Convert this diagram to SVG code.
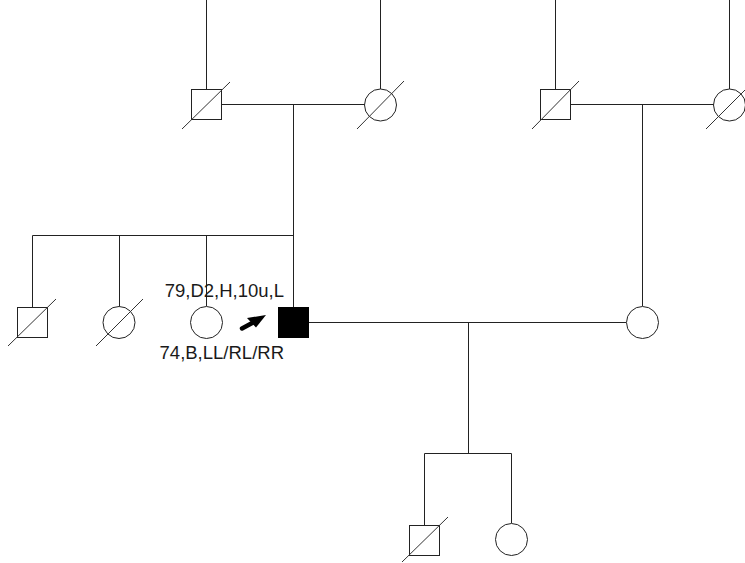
<svg xmlns="http://www.w3.org/2000/svg" width="745" height="563" viewBox="0 0 745 563">
<style>
.ln{stroke:#222;stroke-width:1;fill:none}
.sym{stroke:#222;stroke-width:1;fill:#fff}
.dec{stroke:#333;stroke-width:1}
.lbl{font-family:"Liberation Sans",Arial,sans-serif;font-size:18.5px;fill:#1a1a1a}
</style>
<rect width="745" height="563" fill="#fff"/>
<g id="connectors">
<path class="ln" d="M206.5,0V90 M380.5,0V89 M555.5,0V90 M729.5,0V89"/>
<path class="ln" d="M221,104.5H365 M571,104.5H714"/>
<path class="ln" d="M293.5,104.5V236 M642.5,104.5V306"/>
<path class="ln" d="M32.5,235.5H293.5 M32.5,235.5V307 M119.5,235.5V306 M206.5,235.5V306 M293.5,235.5V307"/>
<path class="ln" d="M309,322.5H626 M468.5,322.5V453.5 M424.5,453.5H511.5 M424.5,453.5V525 M511.5,453.5V523"/>
</g>
<g id="gf1"><rect class="sym" x="191.5" y="89.5" width="30" height="30"/><line class="dec" x1="182" y1="129" x2="230" y2="82"/></g>
<g id="gm1"><circle class="sym" cx="380.5" cy="105" r="16"/><line class="dec" x1="357" y1="129" x2="404" y2="81"/></g>
<g id="gf2"><rect class="sym" x="540.5" y="89.5" width="30" height="30"/><line class="dec" x1="532" y1="129" x2="579" y2="81"/></g>
<g id="gm2"><circle class="sym" cx="729.5" cy="105" r="16"/><line class="dec" x1="706" y1="129" x2="754" y2="81"/></g>
<g id="sib1"><rect class="sym" x="17.5" y="307.5" width="30" height="30"/><line class="dec" x1="8" y1="346" x2="56" y2="299"/></g>
<g id="sib2"><circle class="sym" cx="119" cy="322.5" r="16"/><line class="dec" x1="96" y1="346" x2="143" y2="299"/></g>
<g id="sib3"><circle class="sym" cx="206.5" cy="322.5" r="16"/></g>
<g id="proband">
<rect x="278.5" y="307.5" width="30" height="30" fill="#000" stroke="#000"/>
<line x1="242" y1="328.5" x2="254" y2="322" stroke="#000" stroke-width="4.5" stroke-linecap="round"/>
<polygon points="266,315 247,318 256,327.5" fill="#000"/>
<text class="lbl" x="284" y="297" text-anchor="end">79,D2,H,10u,L</text>
<text class="lbl" x="284" y="359" text-anchor="end">74,B,LL/RL/RR</text>
</g>
<g id="spouse"><circle class="sym" cx="642.5" cy="322.5" r="16"/></g>
<g id="child1"><rect class="sym" x="409.5" y="525.5" width="30" height="30"/><line class="dec" x1="402" y1="562" x2="448" y2="517"/></g>
<g id="child2"><circle class="sym" cx="511.5" cy="539.5" r="16"/></g>
</svg>
